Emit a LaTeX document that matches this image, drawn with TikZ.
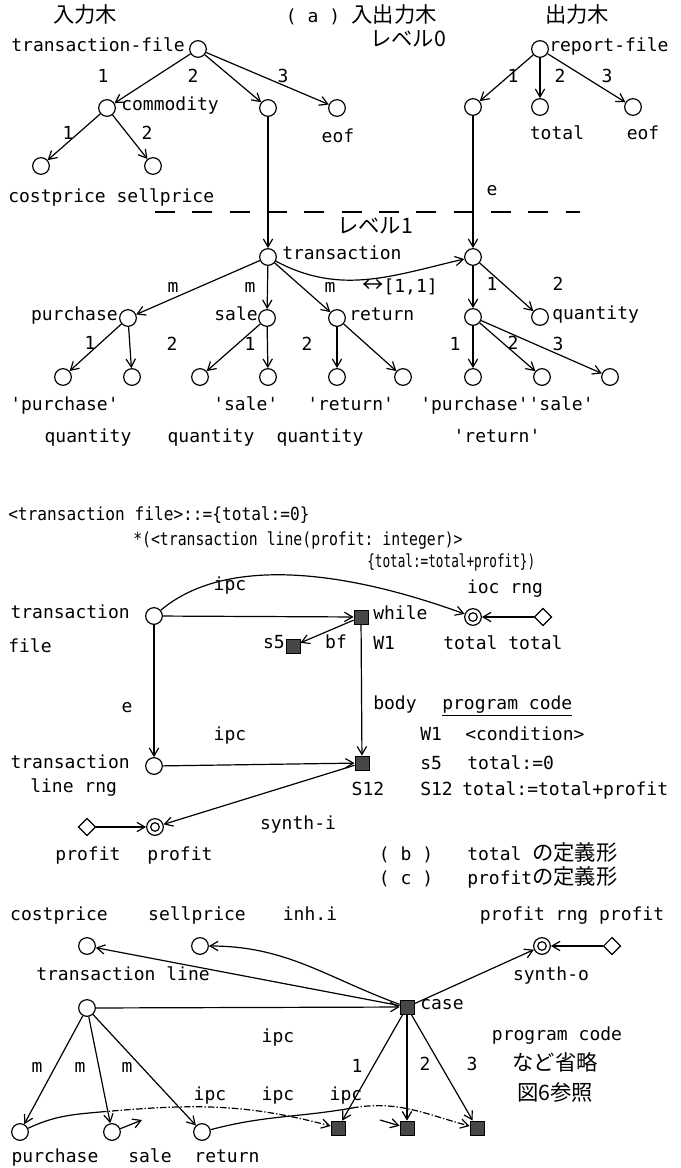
\documentclass[tikz,border=0pt]{standalone}
\usepackage{fontspec}
\setmonofont{DejaVu Sans Mono}
\newfontfamily\jpfont{Noto Sans CJK JP}
\usetikzlibrary{arrows.meta,shapes.geometric}
\newcommand\tx{\ttfamily\fontsize{13.5}{16}\selectfont}
\newcommand\jp{\jpfont\fontsize{16}{18}\selectfont}
\tikzset{
  vtx/.style={circle,draw,line width=0.9pt,minimum size=12.5pt,inner sep=0pt},
  blk/.style={rectangle,draw,line width=0.6pt,fill=black!72,minimum size=10.5pt,inner sep=0pt},
  dbl/.style={circle,draw,line width=0.9pt,minimum size=12.5pt,inner sep=0pt,
     path picture={\draw[line width=0.9pt] (path picture bounding box.center) circle (3.2pt);}},
  dia/.style={diamond,draw,line width=0.9pt,minimum size=13pt,inner sep=0pt},
  t/.style={font=\tx,inner sep=0pt,anchor=mid},
  tw/.style={t,anchor=mid west},
  te/.style={t,anchor=mid east},
  j/.style={font=\jp,inner sep=0pt,anchor=mid},
  ln/.style={line width=0.9pt},
  arr/.style={ln,-{Straight Barb[length=6pt,width=7pt,line width=0.9pt]}},
  dotarr/.style={arr,dash pattern=on 5pt off 1.5pt on 1pt off 1.5pt},
  levelline/.style={line width=0.9pt,dash pattern=on 15pt off 13pt},
}
\begin{document}
\begin{tikzpicture}[x=0.75pt,y=-0.75pt]
\useasboundingbox (0,0) rectangle (681,1168);

% ---------- (a) headings ----------
\node[j] (hIn)  at (85,20)  {入力木};
\node[t] (hA)   at (313,20) {( a )};
\node[j] (hIO)  at (394,20) {入出力木};
\node[j] (hLv0) at (408,44) {レベル0};
\node[j] (hOut) at (577,20) {出力木};

% ---------- input tree, level 0 ----------
\node[vtx] (tf)   at (198,49)  {};
\node[vtx] (cm)   at (107,108) {};
\node[vtx] (mid)  at (268,108) {};
\node[vtx] (eofA) at (337,108) {};
\node[vtx] (cp)   at (41,166)  {};
\node[vtx] (sp)   at (153,166) {};
\node[te] (tfL)  at (185,49)  {transaction-file};
\node[tw] (cmL)  at (121,108) {commodity};
\node[t]  (eofAL) at (338,140) {eof};
\node[tw] (cpspL) at (8,200) {costprice sellprice};
\node[t] (eA1) at (103,80) {1};
\node[t] (eA2) at (193,80) {2};
\node[t] (eA3) at (283,80) {3};
\node[t] (eC1) at (68,137) {1};
\node[t] (eC2) at (147,137) {2};
\draw[arr] (tf) -- (cm);
\draw[arr] (tf) -- (mid);
\draw[arr] (tf) -- (eofA);
\draw[arr] (cm) -- (cp);
\draw[arr] (cm) -- (sp);

% ---------- output tree, level 0 ----------
\node[vtx] (rf)   at (540,49)  {};
\node[vtx] (rl)   at (473,107) {};
\node[vtx] (tot)  at (540,107) {};
\node[vtx] (eofB) at (633,107) {};
\node[tw] (rfL)   at (549,49)  {report-file};
\node[t]  (totL)  at (557,137) {total};
\node[t]  (eofBL) at (643,137) {eof};
\node[t] (eR1) at (513,80) {1};
\node[t] (eR2) at (560,80) {2};
\node[t] (eR3) at (607,80) {3};
\draw[arr] (rf) -- (rl);
\draw[arr] (rf) -- (tot);
\draw[arr] (rf) -- (eofB);

% ---------- level boundary ----------
\coordinate (lvA) at (155,212);
\coordinate (lvB) at (580,212);
\draw[levelline] (lvA) -- (lvB);
\node[t] (eL) at (492,193) {e};
\node[j] (hLv1) at (375,231) {レベル1};

% ---------- level 1 ----------
\node[vtx] (tr)  at (268,257) {};
\node[vtx] (trR) at (473,257) {};
\draw[arr] (mid) -- (tr);
\draw[arr] (rl) -- (trR);
\node[tw] (trL) at (282,257) {transaction};
\draw[arr] (tr) to[out=-28,in=193] (trR);
\node[t] (corr) at (400,290) {{\jp ↔}[1,1]};

\node[vtx] (pu) at (128,318) {};
\node[vtx] (sa) at (267,318) {};
\node[vtx] (re) at (337,318) {};
\node[te] (puL) at (118,318) {purchase};
\node[te] (saL) at (258,318) {sale};
\node[tw] (reL) at (349,318) {return};
\node[t] (m1) at (173,290) {m};
\node[t] (m2) at (250,290) {m};
\node[t] (m3) at (330,290) {m};
\draw[arr] (tr) -- (pu);
\draw[arr] (tr) -- (sa);
\draw[arr] (tr) -- (re);

\node[vtx] (l1) at (63,377)  {};
\node[vtx] (l2) at (132,377) {};
\node[vtx] (l3) at (200,377) {};
\node[vtx] (l4) at (268,377) {};
\node[vtx] (l5) at (337,377) {};
\node[vtx] (l6) at (403,377) {};
\draw[arr] (pu) -- (l1);
\draw[arr] (pu) -- (l2);
\draw[arr] (sa) -- (l3);
\draw[arr] (sa) -- (l4);
\draw[arr] (re) -- (l5);
\draw[arr] (re) -- (l6);
\node[t] (p1) at (90,347)  {1};
\node[t] (p2) at (172,348) {2};
\node[t] (s1) at (250,348) {1};
\node[t] (s2) at (307,348) {2};

\node[vtx] (qR1) at (473,317) {};
\node[vtx] (qty) at (540,317) {};
\node[tw] (qtyL) at (552,317) {quantity};
\node[t] (q1) at (492,288) {1};
\node[t] (q2) at (558,288) {2};
\draw[arr] (trR) -- (qR1);
\draw[arr] (trR) -- (qty);
\node[vtx] (r1) at (473,377) {};
\node[vtx] (r2) at (542,377) {};
\node[vtx] (r3) at (610,377) {};
\draw[arr] (qR1) -- (r1);
\draw[arr] (qR1) -- (r2);
\draw[arr] (qR1) -- (r3);
\node[t] (k1) at (455,348) {1};
\node[t] (k2) at (513,347) {2};
\node[t] (k3) at (558,348) {3};

\node[tw] (lf1) at (10,408)  {'purchase'};
\node[tw] (lf2) at (213,408) {'sale'};
\node[tw] (lf3) at (307,408) {'return'};
\node[tw] (lf4) at (420,408) {'purchase''sale'};
\node[t] (qa) at (88,440)  {quantity};
\node[t] (qb) at (211,440) {quantity};
\node[t] (qc) at (320,440) {quantity};
\node[t] (lf5) at (497,440) {'return'};

% ---------- attribute grammar rule ----------
\node[tw] (g1) at (8,518)   {\resizebox{226pt}{\height}{<transaction file>::=\{total:=0\}}};
\node[tw] (g2) at (133,543) {\resizebox{247pt}{\height}{*(<transaction line(profit: integer)>}};
\node[tw] (g3) at (367,565) {\resizebox{126pt}{\height}{\{total:=total+profit\})}};

% ---------- (b) definition of total ----------
\node[vtx] (tfile) at (154,616) {};
\node[blk] (wh)    at (361,617) {};
\node[blk] (s5)    at (293,646) {};
\node[dbl] (tot2)  at (473,617) {};
\node[dia] (dT)    at (543,617) {};
\node[vtx] (tline) at (154,766) {};
\node[blk] (s12)   at (362,763) {};
\node[dbl] (pdbl)  at (155,827) {};
\node[dia] (dP)    at (87,827)  {};

\draw[arr] (tfile) -- (wh);
\draw[arr] (tfile) -- (tline);
\draw[arr] (tline) -- (s12);
\draw[arr] (wh) -- (s12);
\draw[arr] (wh) -- (s5);
\draw[arr] (tfile) .. controls (220,560) and (330,565) .. (tot2);
\draw[arr] (dT) -- (tot2);
\draw[arr] (s12) -- (pdbl);
\draw[arr] (dP) -- (pdbl);

\node[t]  (ipc1) at (230,588) {ipc};
\node[te] (tfL1) at (130,616) {transaction};
\node[tw] (tfL2) at (8,650)   {file};
\node[te] (s5L)  at (285,646) {s5};
\node[t]  (bfL)  at (336,646) {bf};
\node[tw] (whL)  at (373,617) {while};
\node[tw] (w1L)  at (373,647) {W1};
\node[t]  (iocL) at (505,591) {ioc rng};
\node[tw] (ttL)  at (443,647) {total total};
\node[t]  (eM)   at (127,710) {e};
\node[t]  (ipc2) at (230,738) {ipc};
\node[tw] (bodyL) at (373,707) {body};
\node[tw] (pcL)  at (442,707) {\underline{program code}};
\node[tw] (c1a)  at (420,738) {W1};
\node[tw] (c1b)  at (465,738) {<condition>};
\node[tw] (c2a)  at (420,767) {s5};
\node[tw] (c2b)  at (467,767) {total:=0};
\node[t]  (s12L) at (368,793) {S12};
\node[tw] (c3a)  at (420,793) {S12};
\node[tw] (c3b)  at (462,793) {total:=total+profit};
\node[te] (tlL1) at (130,766) {transaction};
\node[tw] (tlL2) at (30,790)  {line  rng};
\node[t]  (synI) at (298,827) {synth-i};
\node[t]  (prA)  at (88,858)  {profit};
\node[t]  (prB)  at (180,858) {profit};

\node[t]  (capB) at (406,858) {( b )};
\node[tw] (capBt) at (467,858) {total {\jp の定義形}};
\node[t]  (capC) at (406,882) {( c )};
\node[tw] (capCt) at (467,882) {profit{\jp の定義形}};

% ---------- (c) definition of profit ----------
\node[vtx] (cpc)   at (87,946)   {};
\node[vtx] (spc)   at (200,946)  {};
\node[dbl] (sodbl) at (542,946)  {};
\node[dia] (dS)    at (612,946)  {};
\node[vtx] (btl)   at (87,1008)  {};
\node[blk] (cs)    at (407,1007) {};
\node[vtx] (bp)    at (20,1132)  {};
\node[vtx] (bs)    at (112,1132) {};
\node[vtx] (br)    at (202,1132) {};
\node[blk] (b1)    at (338,1128) {};
\node[blk] (b2)    at (407,1128) {};
\node[blk] (b3)    at (477,1128) {};

\draw[arr] (cs) -- (cpc);
\draw[arr] (cs) to[out=160,in=0] (spc);
\draw[arr] (cs) -- (sodbl);
\draw[arr] (dS) -- (sodbl);
\draw[arr] (btl) -- (cs);
\draw[arr] (btl) -- (bp);
\draw[arr] (btl) -- (bs);
\draw[arr] (btl) -- (br);
\draw[arr] (cs) -- (b1);
\draw[arr] (cs) -- (b2);
\draw[arr] (cs) -- (b3);

\coordinate (pm)  at (100,1112);
\coordinate (rm)  at (352,1108);
\coordinate (sst) at (142,1120);
\coordinate (bst) at (380,1120);
\draw[ln] (bp) to[out=25,in=185] (pm);
\draw[dotarr] (pm) to[out=5,in=165] (b1);
\draw[ln] (br) to[out=15,in=190] (rm);
\draw[dotarr] (rm) to[out=10,in=165] (b3);
\draw[arr] (bs) -- (sst);
\draw[arr] (bst) -- (b2);

\node[t]  (cpL)  at (59,918)   {costprice};
\node[t]  (spL)  at (197,918)  {sellprice};
\node[t]  (inhL) at (310,918)  {inh.i};
\node[t]  (prpL) at (572,918)  {profit rng profit};
\node[t]  (btlL) at (123,978)  {transaction line};
\node[t]  (synO) at (551,978)  {synth-o};
\node[tw] (csL)  at (420,1007) {case};
\node[t]  (ipc3) at (278,1040) {ipc};
\node[t]  (pc2)  at (557,1038) {program code};
\node[j]  (omit) at (555,1068) {など省略};
\node[j]  (ref6) at (555,1098) {図6参照};
\node[t] (bm1) at (37,1070)  {m};
\node[t] (bm2) at (80,1070)  {m};
\node[t] (bm3) at (127,1070) {m};
\node[t] (bc1) at (357,1070) {1};
\node[t] (bc2) at (425,1068) {2};
\node[t] (bc3) at (472,1068) {3};
\node[t] (ipc4) at (210,1098) {ipc};
\node[t] (ipc5) at (278,1098) {ipc};
\node[t] (ipc6) at (346,1098) {ipc};
\node[t] (bpL) at (55,1160)  {purchase};
\node[t] (bsL) at (150,1160) {sale};
\node[t] (brL) at (227,1160) {return};
\end{tikzpicture}
\end{document}
